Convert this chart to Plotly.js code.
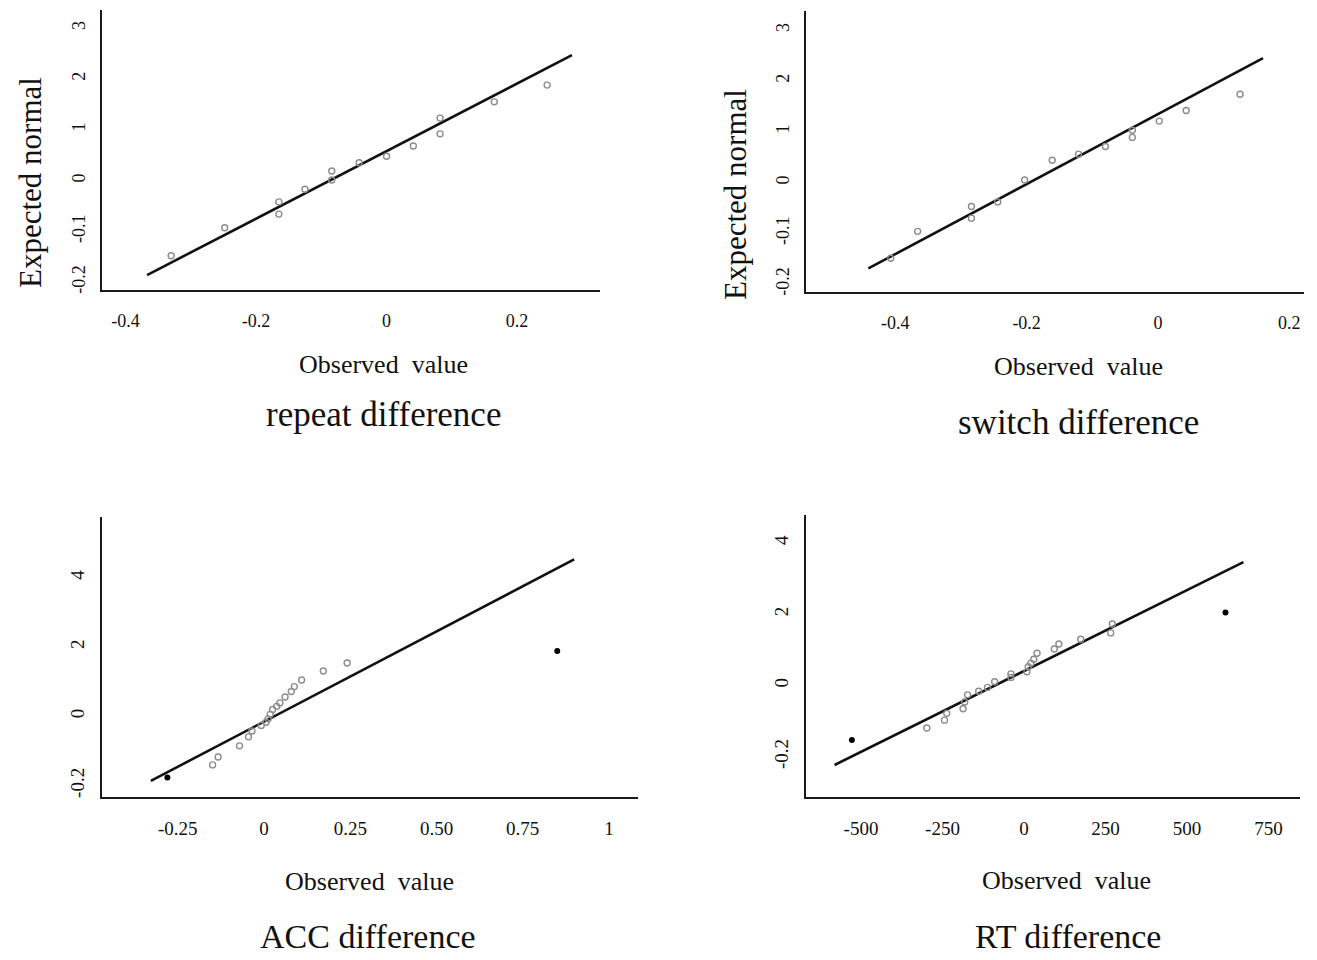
<!DOCTYPE html>
<html>
<head>
<meta charset="utf-8">
<script src="https://cdn.plot.ly/plotly-3.0.1.min.js"></script>
<style>html,body{margin:0;padding:0;background:#fff;}#chart{width:1317px;height:960px;}</style>
</head>
<body>
<div id="chart"></div>
<script>
// ---- Panel 1: repeat difference ----
const repeatObs = [-0.330, -0.248, -0.165, -0.165, -0.125, -0.084, -0.084, -0.042, 0.000, 0.041, 0.082, 0.082, 0.165, 0.246];
const repeatExp = [-1.48, -0.93, -0.42, -0.66, -0.17, 0.19, 0.01, 0.35, 0.48, 0.68, 1.23, 0.92, 1.55, 1.88];
const repeatLineX = [-0.367, 0.284];
const repeatLineY = [-1.86, 2.47];

// ---- Panel 2: switch difference ----
const switchObs = [-0.407, -0.366, -0.284, -0.284, -0.244, -0.203, -0.161, -0.121, -0.080, -0.039, -0.039, 0.002, 0.043, 0.125];
const switchExp = [-1.49, -0.96, -0.47, -0.70, -0.38, 0.05, 0.44, 0.56, 0.71, 1.03, 0.89, 1.21, 1.42, 1.74];
const switchLineX = [-0.441, 0.160];
const switchLineY = [-1.69, 2.45];

// ---- Panel 3: ACC difference ----
const accObs = [-0.149, -0.133, -0.071, -0.045, -0.035, -0.008, 0.006, 0.012, 0.018, 0.025, 0.037, 0.046, 0.061, 0.079, 0.088, 0.109, 0.172, 0.241];
const accExp = [-1.40, -1.17, -0.85, -0.59, -0.42, -0.26, -0.17, -0.07, 0.06, 0.20, 0.29, 0.39, 0.56, 0.72, 0.86, 1.05, 1.31, 1.54];
const accOutObs = [-0.280, 0.850];
const accOutExp = [-1.76, 1.89];
const accLineX = [-0.328, 0.899];
const accLineY = [-1.86, 4.53];

// ---- Panel 4: RT difference ----
const rtObs = [-298, -244, -237, -187, -182, -173, -139, -112, -90, -40, -40, 9, 13, 21, 30, 40, 93, 107, 174, 266, 271];
const rtExp = [-1.19, -0.97, -0.78, -0.65, -0.46, -0.26, -0.16, -0.05, 0.11, 0.23, 0.33, 0.39, 0.53, 0.63, 0.74, 0.91, 1.03, 1.17, 1.30, 1.48, 1.73];
const rtOutObs = [-528, 618];
const rtOutExp = [-1.53, 2.05];
const rtLineX = [-581, 673];
const rtLineY = [-2.23, 3.47];

// ---- Tick labels (as printed in the figure) ----
const topXTicks = [-0.4, -0.2, 0, 0.2];
const topXText = ['-0.4', '-0.2', '0', '0.2'];
const topYTicks = [-2, -1, 0, 1, 2, 3];
const topYText = ['-0.2', '-0.1', '0', '1', '2', '3'];
const accXTicks = [-0.25, 0, 0.25, 0.5, 0.75, 1];
const accXText = ['-0.25', '0', '0.25', '0.50', '0.75', '1'];
const rtXTicks = [-500, -250, 0, 250, 500, 750];
const rtXText = ['-500', '-250', '0', '250', '500', '750'];
const botYTicks = [-2, 0, 2, 4];
const botYText = ['-0.2', '0', '2', '4'];

const panelTitles = ['repeat difference', 'switch difference', 'ACC difference', 'RT difference'];
const xTitle = 'Observed&nbsp; value';
const yTitle = 'Expected normal';

const FONT = 'Liberation Serif, Times New Roman, serif';
const openMarker = {symbol: 'circle-open', size: 6, color: '#8c8c8c', line: {width: 1.4, color: '#8c8c8c'}};
const solidMarker = {symbol: 'circle', size: 6, color: '#000'};
const lineStyle = {color: '#111', width: 2.6};

function pts(x, y, xa, ya, marker) {
  return {type: 'scatter', mode: 'markers', x: x, y: y, xaxis: xa, yaxis: ya, marker: marker, hoverinfo: 'x+y', showlegend: false, cliponaxis: false};
}
function ln(x, y, xa, ya) {
  return {type: 'scatter', mode: 'lines', x: x, y: y, xaxis: xa, yaxis: ya, line: lineStyle, hoverinfo: 'skip', showlegend: false, cliponaxis: false};
}

const data = [
  ln(repeatLineX, repeatLineY, 'x', 'y'),
  pts(repeatObs, repeatExp, 'x', 'y', openMarker),
  ln(switchLineX, switchLineY, 'x2', 'y2'),
  pts(switchObs, switchExp, 'x2', 'y2', openMarker),
  ln(accLineX, accLineY, 'x3', 'y3'),
  pts(accObs, accExp, 'x3', 'y3', openMarker),
  pts(accOutObs, accOutExp, 'x3', 'y3', solidMarker),
  ln(rtLineX, rtLineY, 'x4', 'y4'),
  pts(rtObs, rtExp, 'x4', 'y4', openMarker),
  pts(rtOutObs, rtOutExp, 'x4', 'y4', solidMarker)
];

const W = 1317, H = 960;
function px(x) { return x / W; }
function py(y) { return 1 - y / H; }

function xAxis(domain, range, tv, tt, anchor, size) {
  return {domain: domain, range: range, anchor: anchor, tickmode: 'array', tickvals: tv, ticktext: tt,
    showgrid: false, zeroline: false, showline: true, linecolor: '#1a1a1a', linewidth: 2,
    ticks: '', ticklabelstandoff: 13, tickfont: {family: FONT, size: size, color: '#111'}, fixedrange: true};
}
function yAxis(domain, range, tv, tt, anchor, size) {
  return {domain: domain, range: range, anchor: anchor, tickmode: 'array', tickvals: tv, ticktext: tt,
    showgrid: false, zeroline: false, showline: true, linecolor: '#1a1a1a', linewidth: 2,
    ticks: '', tickangle: -90, ticklabelstandoff: 8, tickfont: {family: FONT, size: size, color: '#111'}, fixedrange: true};
}

function ann(text, x, y, size, angle) {
  return {text: text, x: px(x), y: py(y), xref: 'paper', yref: 'paper', showarrow: false,
    xanchor: 'center', yanchor: 'middle', textangle: angle || 0, font: {family: FONT, size: size, color: '#111'}};
}

const layout = {
  width: W, height: H,
  margin: {l: 0, r: 0, t: 0, b: 0},
  paper_bgcolor: '#fff', plot_bgcolor: '#fff',
  showlegend: false,
  xaxis:  xAxis([px(102), px(600)], [-0.436, 0.327], topXTicks, topXText, 'y', 18),
  yaxis:  yAxis([py(290), py(10)], [-2.154, 3.358], topYTicks, topYText, 'x', 18),
  xaxis2: xAxis([px(806), px(1304)], [-0.536, 0.2224], topXTicks, topXText, 'y2', 18),
  yaxis2: yAxis([py(292), py(11)], [-2.154, 3.378], topYTicks, topYText, 'x2', 18),
  xaxis3: xAxis([px(102), px(638)], [-0.4696, 1.0841], accXTicks, accXText, 'y3', 19),
  yaxis3: yAxis([py(797), py(517)], [-2.326, 5.755], botYTicks, botYText, 'x3', 19),
  xaxis4: xAxis([px(806), px(1300)], [-668.7, 846.6], rtXTicks, rtXText, 'y4', 19),
  yaxis4: yAxis([py(797), py(515)], [-3.129, 4.792], botYTicks, botYText, 'x4', 19),
  annotations: [
    ann(yTitle, 30, 183, 31, -90),
    ann(yTitle, 735, 195, 31, -90),
    ann(xTitle, 383, 364, 26),
    ann(xTitle, 1078, 366, 26),
    ann(xTitle, 370, 881, 26),
    ann(xTitle, 1066, 880, 26),
    ann(panelTitles[0], 383, 414, 35),
    ann(panelTitles[1], 1078, 422, 35),
    ann(panelTitles[2], 368, 936, 34),
    ann(panelTitles[3], 1068, 936, 34)
  ]
};

Plotly.newPlot('chart', data, layout, {displayModeBar: false, staticPlot: true});
</script>
</body>
</html>
